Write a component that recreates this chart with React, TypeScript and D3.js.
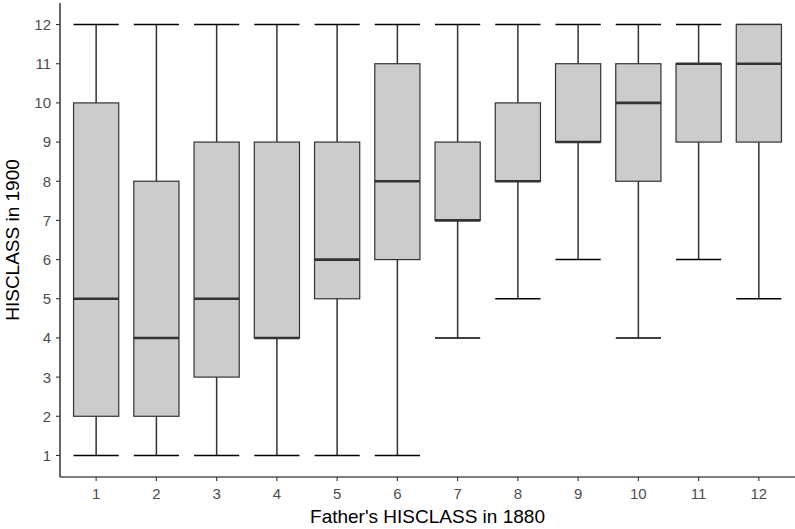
import React, { useEffect, useRef } from 'react';
import * as d3 from 'd3';

// father's class on x, son's class distribution on y
const categories = ['1', '2', '3', '4', '5', '6', '7', '8', '9', '10', '11', '12'];
const lowerWhisker = [1, 1, 1, 1, 1, 1, 4, 5, 6, 4, 6, 5];
const q1 = [2, 2, 3, 4, 5, 6, 7, 8, 9, 8, 9, 9];
const medians = [5, 4, 5, 4, 6, 8, 7, 8, 9, 10, 11, 11];
const q3 = [10, 8, 9, 9, 9, 11, 9, 10, 11, 11, 11, 12];
const upperWhisker = [12, 12, 12, 12, 12, 12, 12, 12, 12, 12, 12, 12];
const yTicks = [1, 2, 3, 4, 5, 6, 7, 8, 9, 10, 11, 12];

const App = () => {
  const svgRef = useRef<SVGSVGElement>(null);

  useEffect(() => {
    const svg = d3.select(svgRef.current);
    svg.selectAll('*').remove();

    const width = 795;
    const height = 529;
    const margin = { top: 3, right: 0, bottom: 52, left: 60 };
    const font = 'Liberation Sans, Arial, Helvetica, sans-serif';

    // ggplot-style discrete expansion: 0.6 units each side
    const x = d3.scalePoint()
      .domain(categories)
      .range([margin.left, width - margin.right])
      .padding(0.6);
    const step = x.step();

    const y = d3.scaleLinear()
      .domain([0.45, 12.55])
      .range([height - margin.bottom, margin.top]);

    const boxW = step * 0.75;
    const g = svg.append('g');

    categories.forEach((c, i) => {
      const xc = x(c) as number;
      // whiskers
      g.append('line')
        .attr('x1', xc).attr('x2', xc)
        .attr('y1', y(q3[i])).attr('y2', y(upperWhisker[i]))
        .attr('stroke', '#333333').attr('stroke-width', 1.5);
      g.append('line')
        .attr('x1', xc).attr('x2', xc)
        .attr('y1', y(q1[i])).attr('y2', y(lowerWhisker[i]))
        .attr('stroke', '#333333').attr('stroke-width', 1.5);
      // caps
      [lowerWhisker[i], upperWhisker[i]].forEach((v) => {
        g.append('line')
          .attr('x1', xc - boxW / 2).attr('x2', xc + boxW / 2)
          .attr('y1', y(v)).attr('y2', y(v))
          .attr('stroke', '#000000').attr('stroke-width', 1.5);
      });
      // box
      g.append('rect')
        .attr('x', xc - boxW / 2)
        .attr('y', y(q3[i]))
        .attr('width', boxW)
        .attr('height', Math.max(0, y(q1[i]) - y(q3[i])))
        .attr('fill', '#cccccc')
        .attr('stroke', '#333333')
        .attr('stroke-width', 1.2);
      g.append('line')
        .attr('x1', xc - boxW / 2).attr('x2', xc + boxW / 2)
        .attr('y1', y(medians[i])).attr('y2', y(medians[i]))
        .attr('stroke', '#333333').attr('stroke-width', 2.6);
    });

    // axes
    const x0 = margin.left;
    const yBottom = height - margin.bottom;
    svg.append('line')
      .attr('x1', x0).attr('x2', x0)
      .attr('y1', margin.top).attr('y2', yBottom)
      .attr('stroke', '#000000').attr('stroke-width', 1.2);
    svg.append('line')
      .attr('x1', x0).attr('x2', width - margin.right)
      .attr('y1', yBottom).attr('y2', yBottom)
      .attr('stroke', '#000000').attr('stroke-width', 1.2);

    yTicks.forEach((t) => {
      svg.append('line')
        .attr('x1', x0 - 4).attr('x2', x0)
        .attr('y1', y(t)).attr('y2', y(t))
        .attr('stroke', '#333333').attr('stroke-width', 1.1);
      svg.append('text')
        .attr('x', x0 - 9)
        .attr('y', y(t))
        .attr('dy', '0.36em')
        .attr('text-anchor', 'end')
        .attr('font-family', font)
        .attr('font-size', 15)
        .attr('fill', '#4d4d4d')
        .text(t);
    });

    categories.forEach((c) => {
      const xc = x(c) as number;
      svg.append('line')
        .attr('x1', xc).attr('x2', xc)
        .attr('y1', yBottom).attr('y2', yBottom + 4)
        .attr('stroke', '#333333').attr('stroke-width', 1.1);
      svg.append('text')
        .attr('x', xc)
        .attr('y', yBottom + 22)
        .attr('text-anchor', 'middle')
        .attr('font-family', font)
        .attr('font-size', 15)
        .attr('fill', '#4d4d4d')
        .text(c);
    });

    svg.append('text')
      .attr('x', (x0 + width - margin.right) / 2)
      .attr('y', height - 6)
      .attr('text-anchor', 'middle')
      .attr('font-family', font)
      .attr('font-size', 19)
      .attr('fill', '#000000')
      .text("Father's HISCLASS in 1880");

    svg.append('text')
      .attr('transform', `translate(19,${(margin.top + yBottom) / 2}) rotate(-90)`)
      .attr('text-anchor', 'middle')
      .attr('font-family', font)
      .attr('font-size', 19)
      .attr('fill', '#000000')
      .text('HISCLASS in 1900');
  }, []);

  return (
    <svg
      ref={svgRef}
      width={795}
      height={529}
      style={{ position: 'absolute', left: 0, top: 0, background: '#ffffff' }}
    />
  );
};

export default App;
